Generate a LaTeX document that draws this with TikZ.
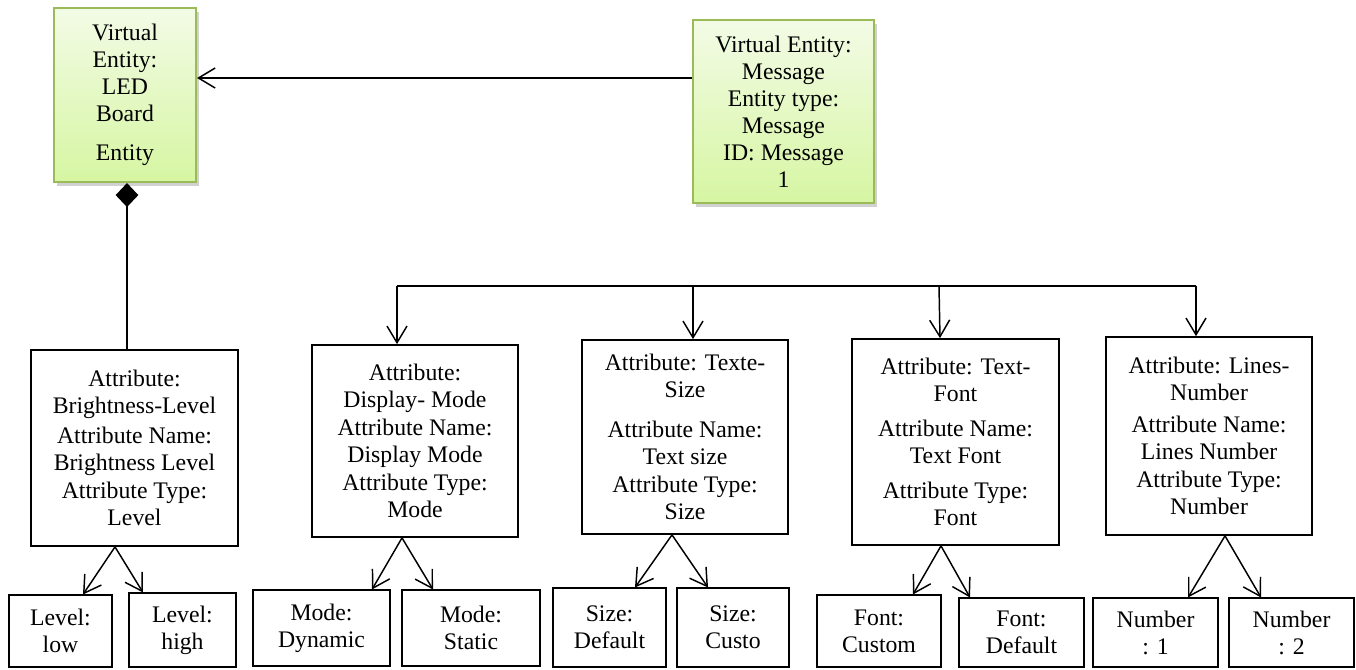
\documentclass[tikz,border=0pt]{standalone}
\usepackage{fontspec}
\setmainfont{Liberation Serif}
\usetikzlibrary{arrows.meta, shadows}
\definecolor{veline}{HTML}{9BBB59}
\definecolor{vetop}{HTML}{F3FBE6}
\definecolor{vebot}{HTML}{D6F6A2}

\begin{document}
\begin{tikzpicture}[x=0.75pt,y=-0.75pt,line width=1.1pt,
  every node/.style={font=\fontsize{17.8}{20.25}\selectfont,align=center,inner sep=2pt},
  entity/.style={draw=veline,line width=1.6pt,top color=vetop,bottom color=vebot,
    drop shadow={shadow xshift=2pt,shadow yshift=-3pt,fill=black!30,opacity=0.6}},
  attr/.style={draw,line width=1.3pt,minimum width=155pt},
  leaf/.style={draw,line width=0.8pt},
  arr/.style={-{Straight Barb[length=12.5pt,width=15pt]}}]
\useasboundingbox (0,0) rectangle (1356,669);

% virtual entities
\node[entity,minimum width=106.5pt,minimum height=130.5pt] (led) at (125,95)
  {Virtual\\Entity:\\LED\\Board\\[9pt]Entity};
\node[entity,minimum width=135.75pt,minimum height=137.25pt] (msg) at (783.5,111.5)
  {Virtual Entity:\\Message\\Entity type:\\Message\\ID: Message\\1};

% attributes
\node[attr,minimum height=147pt] (bright) at (134.5,448)
  {Attribute:\\Brightness-Level\\[2pt]Attribute Name:\\Brightness Level\\[1pt]Attribute Type:\\Level};
\node[attr,minimum height=144pt] (mode) at (415,441)
  {Attribute:\\Display- Mode\\[1pt]Attribute Name:\\Display Mode\\[1pt]Attribute Type:\\Mode};
\node[attr,minimum height=145.5pt] (size) at (685,437)
  {Attribute: Texte-\\Size\\[10pt]Attribute Name:\\Text size\\[1pt]Attribute Type:\\Size};
\node[attr,minimum height=154.5pt] (font) at (955.5,442)
  {Attribute: Text-\\Font\\[6pt]Attribute Name:\\Text Font\\[6pt]Attribute Type:\\Font};
\node[attr,minimum height=148.5pt] (lines) at (1209,436)
  {Attribute: Lines-\\Number\\[4pt]Attribute Name:\\Lines Number\\[1pt]Attribute Type:\\Number};

% values
\node[leaf,minimum width=77.25pt,minimum height=54pt] (low) at (60.5,631) {Level:\\low};
\node[leaf,minimum width=80.25pt,minimum height=55.5pt] (high) at (182.5,630) {Level:\\high};
\node[leaf,minimum width=102.75pt,minimum height=57pt] (dyn) at (321.5,628) {Mode:\\Dynamic};
\node[leaf,minimum width=103.5pt,minimum height=57pt] (stat) at (471,628) {Mode:\\Static};
\node[leaf,minimum width=84.75pt,minimum height=59.25pt] (sdef) at (609.5,627.5) {Size:\\Default};
\node[leaf,minimum width=84pt,minimum height=59.25pt] (scus) at (733,627.5) {Size:\\Custo};
\node[leaf,minimum width=93pt,minimum height=54pt] (fcus) at (879,631) {Font:\\Custom};
\node[leaf,minimum width=93.75pt,minimum height=51.75pt] (fdef) at (1021.5,632.5) {Font:\\Default};
\node[leaf,minimum width=93.75pt,minimum height=51.75pt] (num1) at (1155.5,632.5) {Number\\: 1};
\node[leaf,minimum width=93.75pt,minimum height=51.75pt] (num2) at (1291.5,632.5) {Number\\: 2};

% links
\draw[arr] (msg.west |- 0,78) -- (led.east |- 0,78);
\draw[{Diamond[length=18pt,width=17pt]}-] (led.south -| 127,0) -- (bright.north -| 127,0);

\coordinate (busl) at (397,286);
\coordinate (busr) at (1196,286);
\draw (busl) -- (busr);
\draw[arr] (busl) -- (mode.north -| busl);
\draw[arr] (693,286) -- (size.north -| 693,0);
\draw[arr] (939,286) -- (font.north -| 940,0);
\draw[arr] (busr) -- (lines.north -| busr);

\path[arr]
(bright.south -| 115,0) edge (low.north -| 83,0)
                        edge (high.north -| 143,0)
(mode.south -| 402,0)   edge (dyn.north -| 372,0)
                        edge (stat.north -| 433,0)
(size.south -| 672,0)   edge (sdef.north -| 635,0)
                        edge (scus.north -| 708,0)
(font.south -| 941,0)   edge (fcus.north -| 913,0)
                        edge (fdef.north -| 970,0)
(lines.south -| 1225,0) edge (num1.north -| 1188,0)
                        edge (num2.north -| 1261,0);
\end{tikzpicture}
\end{document}
